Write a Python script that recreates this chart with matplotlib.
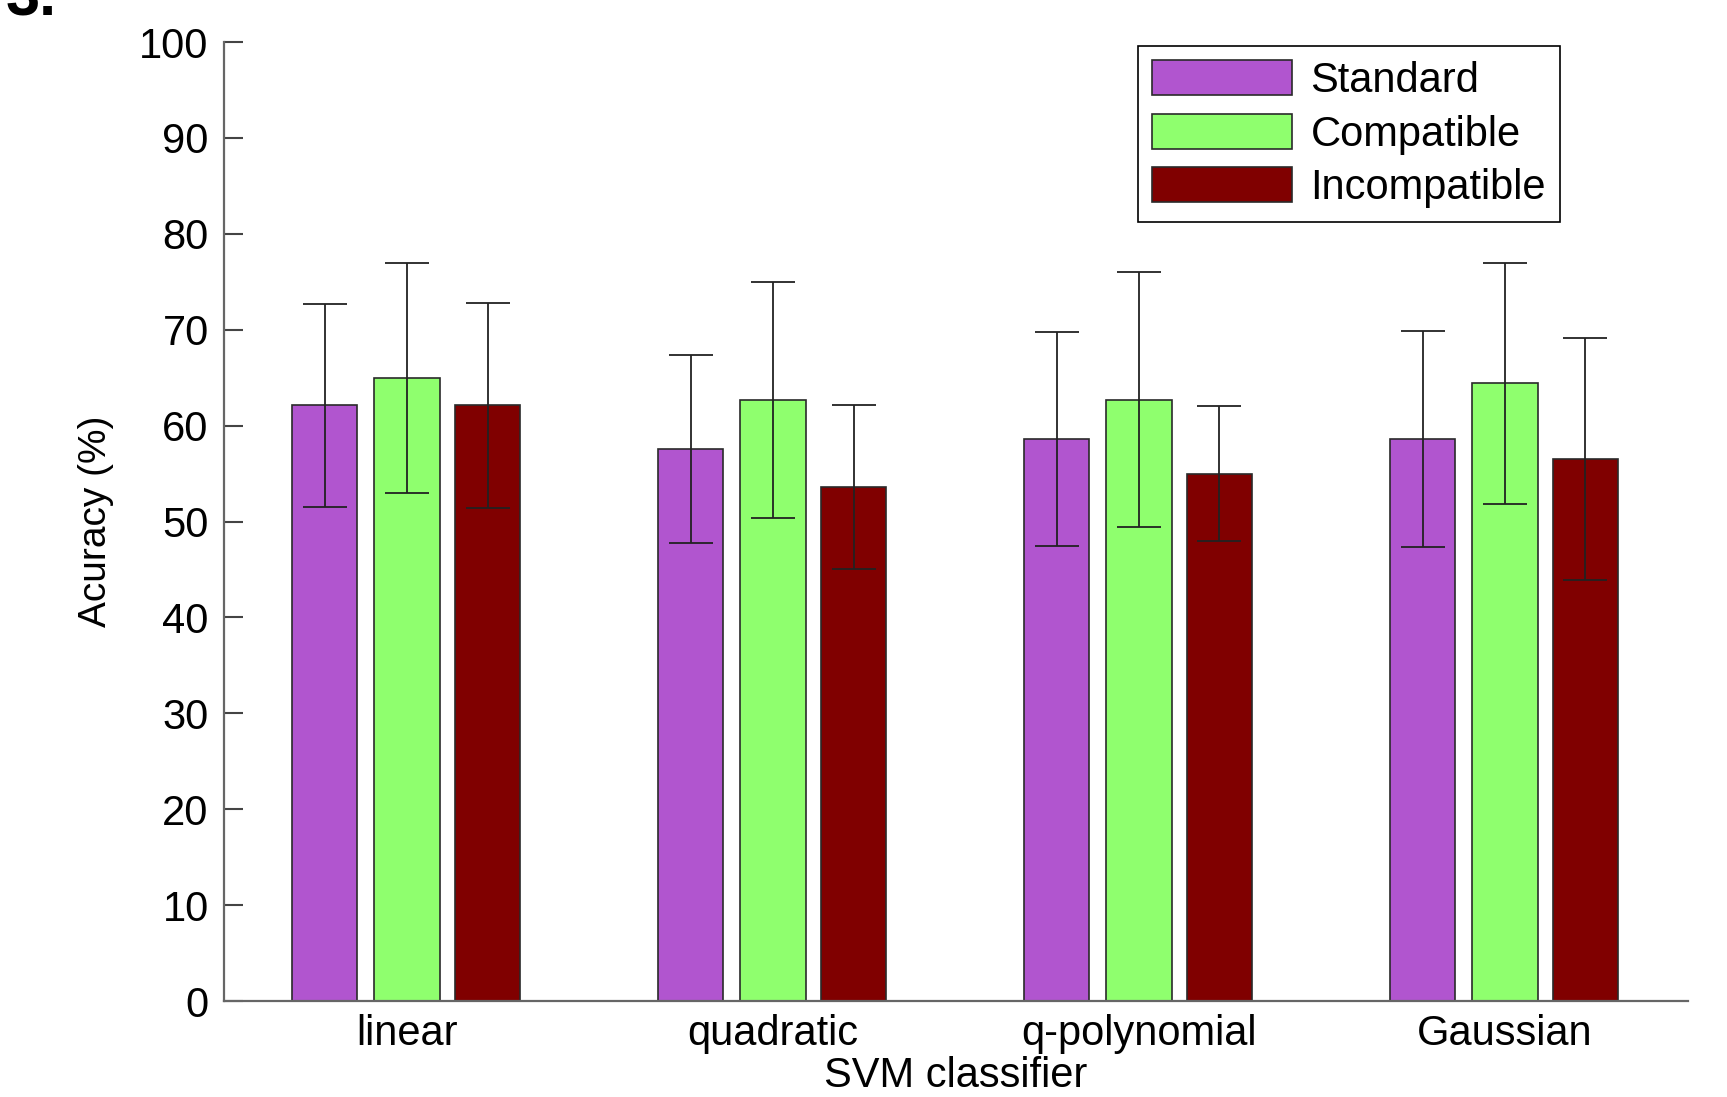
import numpy as np
import matplotlib
matplotlib.use('Agg')
import matplotlib.pyplot as plt

plt.rcParams['font.family'] = ['Liberation Sans', 'DejaVu Sans']

# --- data --- #
classifiers = ['linear', 'quadratic', 'q-polynomial', 'Gaussian']
conditions = ['Standard', 'Compatible', 'Incompatible']
standard = [62.1, 57.6, 58.6, 58.6]
compatible = [65.0, 62.7, 62.7, 64.4]
incompatible = [62.1, 53.6, 55.0, 56.5]
standard_err = [10.6, 9.8, 11.2, 11.3]
compatible_err = [12.0, 12.3, 13.3, 12.6]
incompatible_err = [10.7, 8.5, 7.0, 12.6]

colors = ['#B155CF', '#8FFF6E', '#800000']

fig = plt.figure(figsize=(17.27, 10.97), dpi=100)
ax = fig.add_axes([0.1297, 0.0875, 0.9774 - 0.1297, 0.9617 - 0.0875])

x = np.arange(1, len(classifiers) + 1)
width = 0.178
offsets = [-0.225, 0.0, 0.22]
series = [standard, compatible, incompatible]
errs = [standard_err, compatible_err, incompatible_err]

for vals, err, off, col, lab in zip(series, errs, offsets, colors, conditions):
    ax.bar(x + off, vals, width, color=col, edgecolor='#2a2a2a', linewidth=1.2, label=lab, zorder=2)
    ax.errorbar(x + off, vals, yerr=err, fmt='none', ecolor='#222222', elinewidth=1.3,
                capsize=16, capthick=1.3, zorder=3)

ax.set_xlim(0.5, 4.5)
ax.set_ylim(0, 100)
ax.set_yticks(np.arange(0, 101, 10))
ax.set_xticks(x)
ax.set_xticklabels(classifiers)

for s in ['top', 'right']:
    ax.spines[s].set_visible(False)
for s in ['left', 'bottom']:
    ax.spines[s].set_color('#666666')
    ax.spines[s].set_linewidth(1.6)

ax.tick_params(axis='y', direction='in', length=14, width=1.5, color='#444444', labelsize=30, pad=11)
ax.tick_params(axis='x', length=0, labelsize=30, pad=9)

ax.set_xlabel('SVM classifier', fontsize=30, labelpad=2)
ax.set_ylabel('Acuracy (%)', fontsize=28, labelpad=18)

leg = ax.legend(loc='upper left', bbox_to_anchor=(0.659, 0.958), bbox_transform=fig.transFigure,
                fontsize=30, fancybox=False, framealpha=1, edgecolor='black',
                handlelength=3.35, handleheight=0.92, labelspacing=0.3,
                handletextpad=0.45, borderpad=0.34, borderaxespad=0)
leg.get_frame().set_linewidth(1.2)

fig.text(0.003, 1 - 16 / 1097, '3.', fontsize=44, fontweight='bold', va='baseline', ha='left')

fig.savefig('out.png', dpi=100)
